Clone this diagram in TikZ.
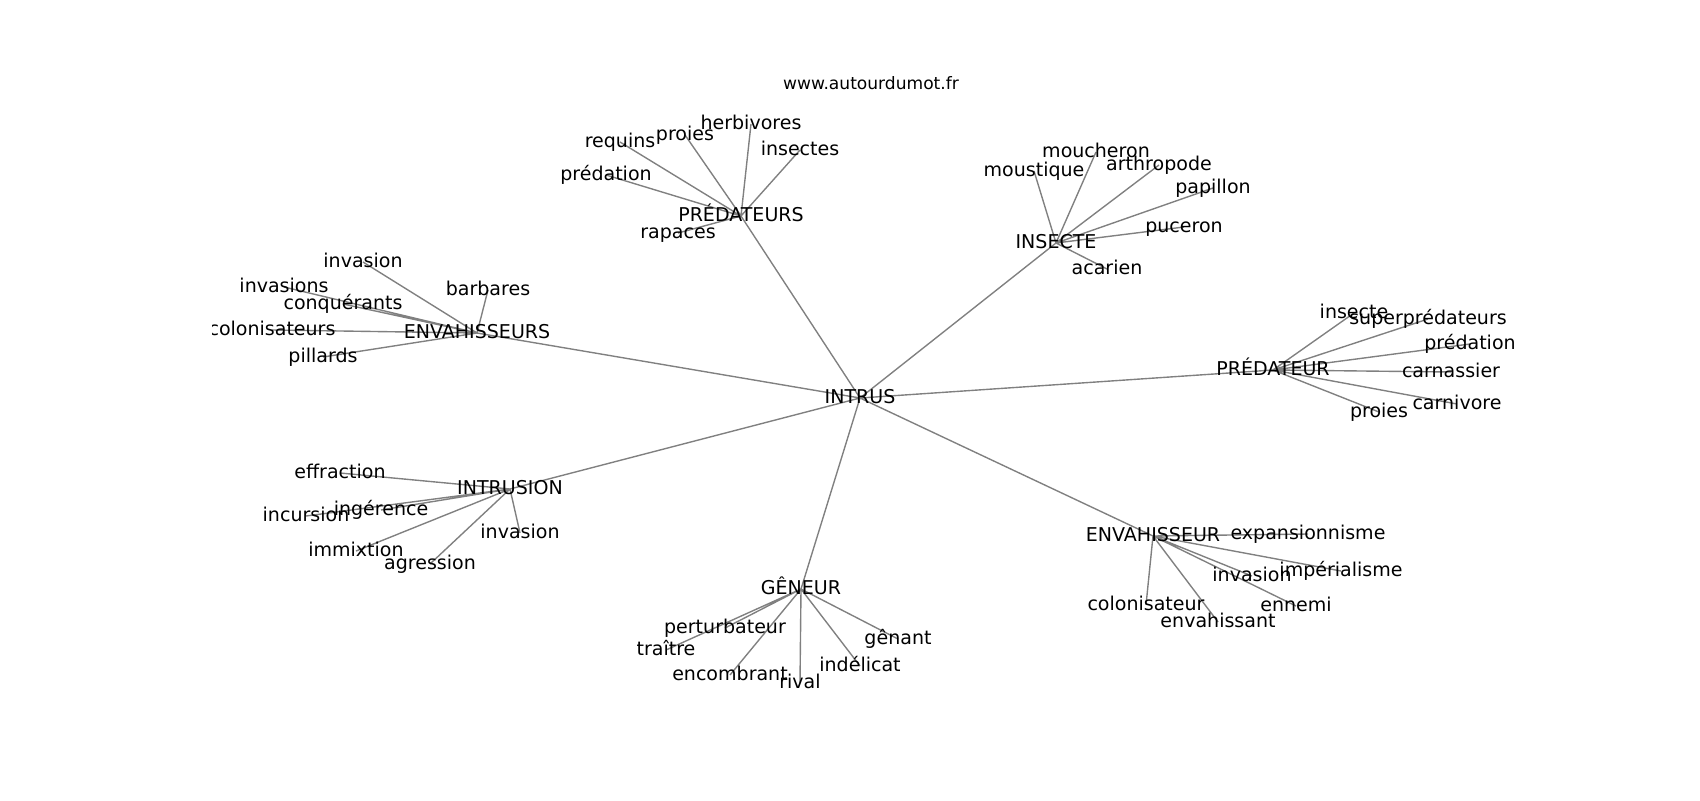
\documentclass[tikz,border=0pt]{standalone}
\usepackage{fontspec}
\setmainfont{DejaVu Sans}
\usepackage{tikz}
\usetikzlibrary{backgrounds}
\definecolor{edgegray}{RGB}{128,128,128}
\tikzstyle{word} = [inner sep=0pt, text height=0.73em, text depth=0pt, font=\fontsize{13.7}{16}\selectfont]
\tikzstyle{link} = [draw=edgegray, line width=1pt]

\begin{document}
\begin{tikzpicture}[x=0.72pt, y=-0.72pt]
    \useasboundingbox (0,0) rectangle (1700,800);
    \node[inner sep=0pt, font=\fontsize{12.3}{15}\selectfont] (title) at (871,83) {www.autourdumot.fr};

    \begin{scope}
    \clip (212.5,96) rectangle (1530,712);
    % Centre
    \node[word] (c) at (860,398) {INTRUS};

    % PRÉDATEURS
    \node[word] (h1) at (741,216) {PRÉDATEURS};
    \node[word] (h1a) at (751,124) {herbivores};
    \node[word] (h1b) at (685,135) {proies};
    \node[word] (h1c) at (620,142) {requins};
    \node[word] (h1d) at (800,150) {insectes};
    \node[word] (h1e) at (606,175) {prédation};
    \node[word] (h1f) at (678,233) {rapaces};

    % INSECTE
    \node[word] (h2) at (1056,243) {INSECTE};
    \node[word] (h2a) at (1096,152) {moucheron};
    \node[word] (h2b) at (1034,171) {moustique};
    \node[word] (h2c) at (1159,165) {arthropode};
    \node[word] (h2d) at (1213,188) {papillon};
    \node[word] (h2e) at (1184,227) {puceron};
    \node[word] (h2f) at (1107,269) {acarien};

    % PRÉDATEUR
    \node[word] (h3) at (1273,370) {PRÉDATEUR};
    \node[word] (h3a) at (1354,313) {insecte};
    \node[word] (h3b) at (1428,319) {superprédateurs};
    \node[word] (h3c) at (1470,344) {prédation};
    \node[word] (h3d) at (1451,372) {carnassier};
    \node[word] (h3e) at (1457,404) {carnivore};
    \node[word] (h3f) at (1379,412) {proies};

    % ENVAHISSEURS
    \node[word] (h4) at (477,333) {ENVAHISSEURS};
    \node[word] (h4a) at (363,262) {invasion};
    \node[word] (h4b) at (488,290) {barbares};
    \node[word] (h4c) at (284,287) {invasions};
    \node[word] (h4d) at (343,304) {conquérants};
    \node[word] (h4e) at (272,330) {colonisateurs};
    \node[word] (h4f) at (323,357) {pillards};

    % INTRUSION
    \node[word] (h5) at (510,489) {INTRUSION};
    \node[word] (h5a) at (340,473) {effraction};
    \node[word] (h5b) at (381,510) {ingérence};
    \node[word] (h5c) at (306,516) {incursion};
    \node[word] (h5d) at (520,533) {invasion};
    \node[word] (h5e) at (356,551) {immixtion};
    \node[word] (h5f) at (430,564) {agression};

    % GÊNEUR
    \node[word] (h6) at (801,589) {GÊNEUR};
    \node[word] (h6a) at (725,628) {perturbateur};
    \node[word] (h6b) at (666,650) {traître};
    \node[word] (h6c) at (898,639) {gênant};
    \node[word] (h6d) at (730,675) {encombrant};
    \node[word] (h6e) at (860,666) {indélicat};
    \node[word] (h6f) at (800,683) {rival};

    % ENVAHISSEUR
    \node[word] (h7) at (1153,536) {ENVAHISSEUR};
    \node[word] (h7a) at (1308,534) {expansionnisme};
    \node[word] (h7b) at (1252,576) {invasion};
    \node[word] (h7c) at (1341,571) {impérialisme};
    \node[word] (h7d) at (1146,605) {colonisateur};
    \node[word] (h7e) at (1296,606) {ennemi};
    \node[word] (h7f) at (1218,622) {envahissant};
    \end{scope}

    % Edges
    \begin{pgfonlayer}{background}
    \draw[link] (c.center) -- (h1.center) (c.center) -- (h2.center) (c.center) -- (h3.center) (c.center) -- (h4.center) (c.center) -- (h5.center) (c.center) -- (h6.center) (c.center) -- (h7.center);
    \draw[link] (h1.center) -- (h1a.center) (h1.center) -- (h1b.center) (h1.center) -- (h1c.center) (h1.center) -- (h1d.center) (h1.center) -- (h1e.center) (h1.center) -- (h1f.center);
    \draw[link] (h2.center) -- (h2a.center) (h2.center) -- (h2b.center) (h2.center) -- (h2c.center) (h2.center) -- (h2d.center) (h2.center) -- (h2e.center) (h2.center) -- (h2f.center);
    \draw[link] (h3.center) -- (h3a.center) (h3.center) -- (h3b.center) (h3.center) -- (h3c.center) (h3.center) -- (h3d.center) (h3.center) -- (h3e.center) (h3.center) -- (h3f.center);
    \draw[link] (h4.center) -- (h4a.center) (h4.center) -- (h4b.center) (h4.center) -- (h4c.center) (h4.center) -- (h4d.center) (h4.center) -- (h4e.center) (h4.center) -- (h4f.center);
    \draw[link] (h5.center) -- (h5a.center) (h5.center) -- (h5b.center) (h5.center) -- (h5c.center) (h5.center) -- (h5d.center) (h5.center) -- (h5e.center) (h5.center) -- (h5f.center);
    \draw[link] (h6.center) -- (h6a.center) (h6.center) -- (h6b.center) (h6.center) -- (h6c.center) (h6.center) -- (h6d.center) (h6.center) -- (h6e.center) (h6.center) -- (h6f.center);
    \draw[link] (h7.center) -- (h7a.center) (h7.center) -- (h7b.center) (h7.center) -- (h7c.center) (h7.center) -- (h7d.center) (h7.center) -- (h7e.center) (h7.center) -- (h7f.center);
    \end{pgfonlayer}
\end{tikzpicture}
\end{document}
